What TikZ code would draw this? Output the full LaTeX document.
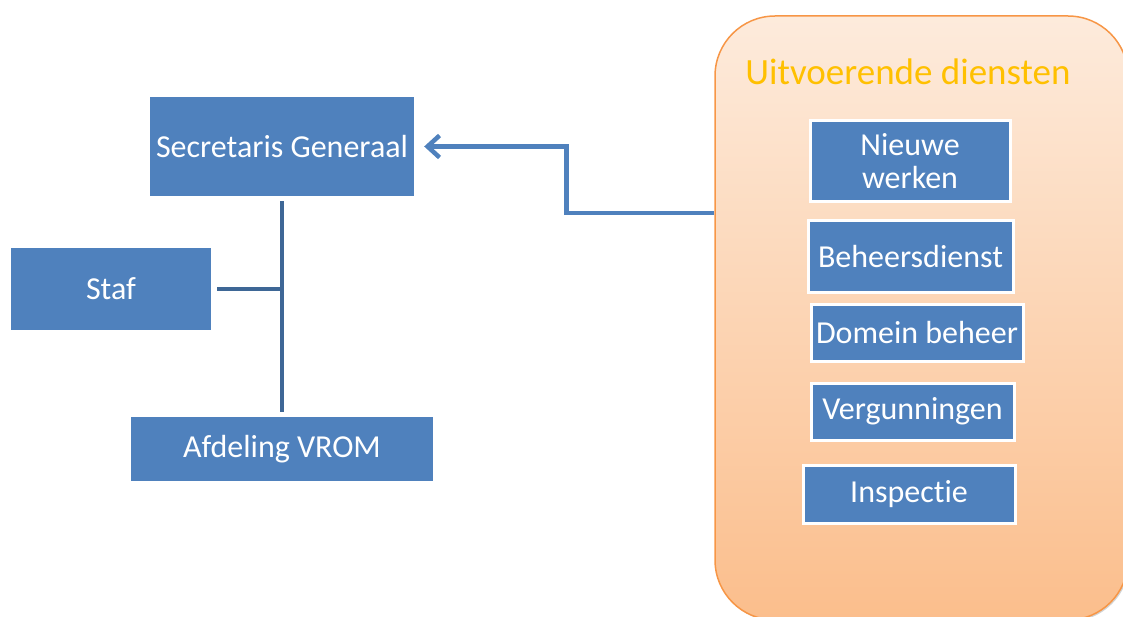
\documentclass[tikz,border=0pt]{standalone}
\usepackage{fontspec}
\setmainfont[Ligatures=NoCommon]{Carlito}
\usetikzlibrary{arrows.meta,shadows}
\definecolor{boxblue}{RGB}{79,129,189}
\definecolor{linkblue}{RGB}{62,103,150}
\definecolor{rimorange}{RGB}{247,150,70}
\definecolor{peachtop}{RGB}{253,235,220}
\definecolor{peachbot}{RGB}{251,190,140}
\definecolor{titlegold}{RGB}{255,192,0}

\begin{document}
\begin{tikzpicture}[x=1pt,y=-1pt]
\tikzstyle{every node}+=[inner sep=0pt,font=\fontsize{32}{33}\selectfont]
\tikzstyle{unit}=[fill=boxblue,text=white,align=center]
\tikzstyle{dienst}=[unit,draw=white,line width=3pt]
\useasboundingbox (0,0) rectangle (1123,617);
\node [draw=rimorange,line width=1.5pt,rounded corners=60pt,top color=peachtop,bottom color=peachbot,minimum width=413pt,minimum height=604pt,drop shadow={shadow xshift=1.5pt,shadow yshift=-1.5pt,opacity=0.35}] (diensten) at (921.5,318) {};
\node [text=titlegold,font=\fontsize{37}{40}\selectfont] (titel) at (908,72) {Uitvoerende diensten};
\node [unit,minimum width=264pt,minimum height=99pt] (sg) at (282,146.5) {Secretaris Generaal};
\node [unit,minimum width=200pt,minimum height=82pt] (staf) at (111,289) {Staf};
\node [unit,minimum width=302pt,minimum height=64pt] (vrom) at (282,449) {Afdeling VROM};
\node [dienst,minimum width=200pt,minimum height=81pt] (nieuw) at (910,161.5) {Nieuwe\\werken};
\node [dienst,minimum width=205pt,minimum height=72pt] (beheer) at (910.5,257) {Beheersdienst};
\node [dienst,minimum width=212pt,minimum height=57pt] (domein) at (917,332.5) {Domein beheer};
\node [dienst,minimum width=203pt,minimum height=57pt] (vergun) at (912.5,411.5) {Vergunningen};
\node [dienst,minimum width=212pt,minimum height=58pt] (insp) at (909,494) {Inspectie};
\coordinate (uit) at (diensten.west |- 0,213);
\draw [linkblue,line width=4pt,shorten <=5pt,shorten >=5pt] (sg.south) -- (vrom.north);
\draw [linkblue,line width=4pt,shorten <=6pt] (staf.east) -- (staf.east -| sg.south);
\draw [boxblue,line width=4.5pt,-{Straight Barb[length=12pt,width=22pt]},shorten >=10pt] (uit) -- ++(-148,0) |- (sg.east);
\end{tikzpicture}
\end{document}
